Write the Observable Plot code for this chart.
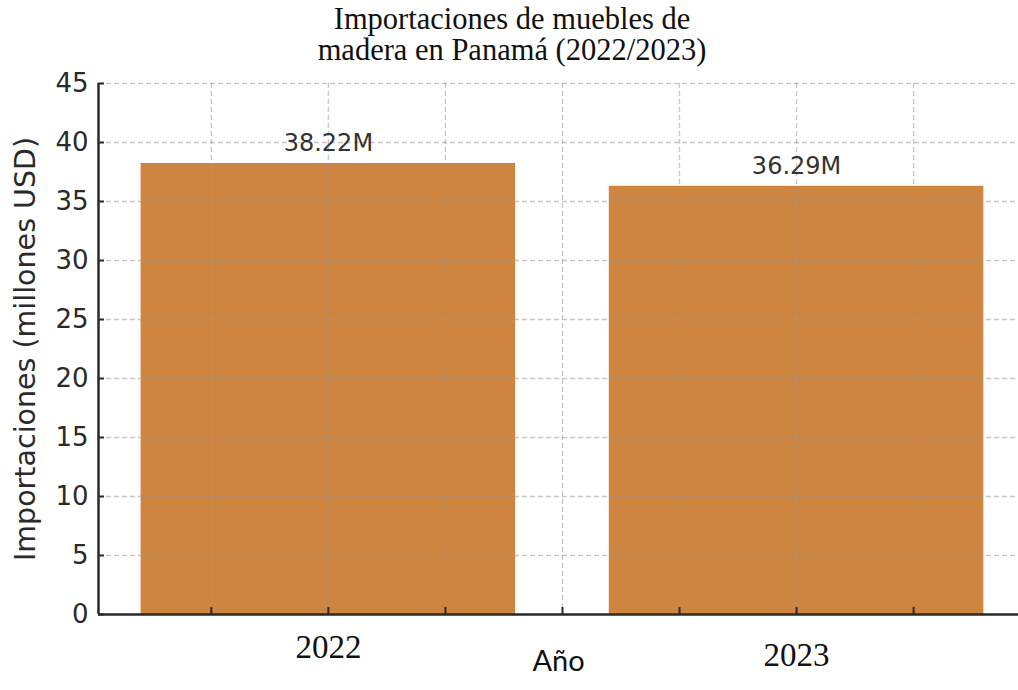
<!DOCTYPE html>
<html>
<head>
<meta charset="utf-8">
<script src="https://cdn.jsdelivr.net/npm/d3@7"></script>
<script src="https://cdn.jsdelivr.net/npm/@observablehq/plot@0.6"></script>
<style>
  body { margin: 0; background: #fff; }
  #wrap { position: relative; width: 1018px; height: 690px; overflow: hidden; }
  #title {
    position: absolute; left: 0; top: 4px; width: 1024px;
    text-align: center; font-family: "Liberation Serif", serif;
    font-size: 30.5px; line-height: 31px; color: #111;
  }
  #chart { position: absolute; left: 0; top: 0; }
</style>
</head>
<body>
<div id="wrap">
  <div id="chart"></div>
  <div id="title">Importaciones de muebles de<br>madera en Panamá (2022/2023)</div>
</div>
<script>
// Wooden furniture imports into Panama, millions of USD
const years = [2022, 2023];
const imports = [38.22, 36.29];
const valueLabels = ["38.22M", "36.29M"];

// Axis ticks
const yTicks = [0, 5, 10, 15, 20, 25, 30, 35, 40, 45];
const xTicks = [2021.75, 2022, 2022.25, 2022.5, 2022.75, 2023, 2023.25];
const xDomain = [2021.509, 2023.474];
const yLabel = "Importaciones (millones USD)";
const xLabel = "Año";

const rows = years.map((year, i) => ({year, value: imports[i], label: valueLabels[i]}));
const barHalf = 0.4;
const gridStyle = {stroke: "#9a9a9a", strokeOpacity: 0.55, strokeDasharray: "5,3", strokeWidth: 1.3};

const chart = Plot.plot({
  width: 1018,
  height: 690,
  marginLeft: 98,
  marginRight: 0,
  marginTop: 83,
  marginBottom: 76,
  style: {fontFamily: "DejaVu Sans", background: "#fff", color: "#2a2a2a"},
  x: {domain: xDomain},
  y: {domain: [0, 45]},
  marks: [
    Plot.rectY(rows, {x1: d => d.year - barHalf, x2: d => d.year + barHalf, y: "value", fill: "#CD853F"}),
    Plot.gridY(yTicks.filter(v => v > 0), gridStyle),
    Plot.gridX(xTicks, gridStyle),
    Plot.axisY(yTicks, {tickSize: -6, tickPadding: 16, fontSize: 26, label: null, strokeWidth: 2, fill: "#2a2a2a"}),
    Plot.axisX(xTicks, {tickSize: -7, tickFormat: () => "", label: null, strokeWidth: 2}),
    Plot.ruleY([0], {stroke: "#2a2a2a", strokeWidth: 2.5}),
    Plot.ruleX([xDomain[0]], {stroke: "#2a2a2a", strokeWidth: 2.5}),
    Plot.text(rows, {x: "year", y: "value", text: "label", dy: -20, fontSize: 24, fill: "#333"}),
    Plot.text([years[0]], {x: d => d, text: d => String(d), frameAnchor: "bottom", dy: 43, fontFamily: "Liberation Serif", fontSize: 33, fill: "#111"}),
    Plot.text([years[1]], {x: d => d, text: d => String(d), frameAnchor: "bottom", dy: 51, fontFamily: "Liberation Serif", fontSize: 33, fill: "#111"}),
    Plot.text([xLabel], {frameAnchor: "bottom", dy: 56, fontFamily: "Lato", fontSize: 29, fill: "#111"}),
    Plot.text([yLabel], {frameAnchor: "left", dx: -73, rotate: -90, textAnchor: "middle", lineAnchor: "middle", fontSize: 28.5, fill: "#2a2a2a"})
  ]
});
document.getElementById("chart").appendChild(chart);
</script>
</body>
</html>
